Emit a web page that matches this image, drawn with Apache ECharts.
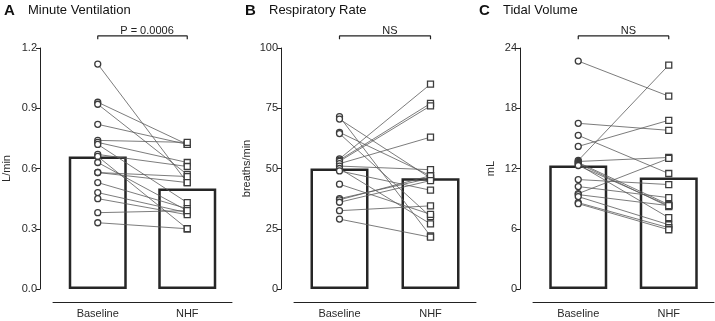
<!DOCTYPE html>
<html>
<head>
<meta charset="utf-8">
<script src="https://cdn.jsdelivr.net/npm/echarts@6/dist/echarts.min.js"></script>
<style>
  html, body { margin: 0; padding: 0; background: #fff; }
  #chart { width: 715px; height: 321px; }
</style>
</head>
<body>
<div id="chart"></div>
<script>
// categories
const categories = ['Baseline', 'NHF'];

// A: minute ventilation (L/min), one value per subject
const mvBaseline = [1.12, 0.93, 0.92, 0.82, 0.74, 0.73, 0.72, 0.67, 0.66, 0.63, 0.58, 0.58, 0.53, 0.48, 0.45, 0.38, 0.33];
const mvNHF      = [0.53, 0.72, 0.57, 0.72, 0.73, 0.63, 0.43, 0.61, 0.30, 0.39, 0.56, 0.53, 0.40, 0.38, 0.37, 0.39, 0.30];
const mvMean     = [0.66, 0.50];

// B: respiratory rate (breaths/min)
const rrBaseline = [71.5, 70.5, 65, 64.5, 54, 53.5, 53, 52, 51, 50, 49, 43.5, 37.5, 37, 36, 32.5, 29];
const rrNHF      = [22, 46, 47, 30, 85, 77, 76, 63, 49.5, 27, 41, 31, 46, 47, 45, 34.5, 21.5];
const rrMean     = [50, 46];

// C: tidal volume (mL)
const tvBaseline = [22.7, 16.5, 15.3, 14.2, 12.8, 12.7, 12.6, 12.5, 12.4, 12.3, 10.9, 10.2, 9.5, 9.4, 9.2, 8.6, 8.5];
const tvNHF      = [19.2, 15.8, 11.5, 16.8, 22.3, 13.1, 8.4, 8.2, 7.1, 8.3, 10.4, 9.1, 13.0, 8.3, 6.4, 6.1, 5.9];
const tvMean     = [12.3, 11.1];

// axis ranges
const yMax      = [1.2, 100, 24];
const yInterval = [0.3, 25, 6];
const yDecimals = [1, 0, 0];

const panels = [
  {letter: 'A', title: 'Minute Ventilation', unit: 'L/min', note: 'P = 0.0006',
   base: mvBaseline, nhf: mvNHF, mean: mvMean, left: 52, width: 180, titleX: 4, nameGap: 28},
  {letter: 'B', title: 'Respiratory Rate', unit: 'breaths/min', note: 'NS',
   base: rrBaseline, nhf: rrNHF, mean: rrMean, left: 294, width: 182, titleX: 245, nameGap: 29},
  {letter: 'C', title: 'Tidal Volume', unit: 'mL', note: 'NS',
   base: tvBaseline, nhf: tvNHF, mean: tvMean, left: 533, width: 181, titleX: 479, nameGap: 24}
];

const FONT = 'Liberation Sans, Arial, sans-serif';
const grid = [], xAxis = [], yAxis = [], series = [], title = [];

panels.forEach(function (p, i) {
  grid.push({left: p.left, width: p.width, top: 48, bottom: 32});

  xAxis.push({
    type: 'category', gridIndex: i, data: categories, offset: 13,
    axisLine: {onZero: false, lineStyle: {color: '#222', width: 1}},
    axisTick: {alignWithLabel: true, length: 4, lineStyle: {color: '#222'}},
    axisLabel: {color: '#2a2a2a', fontSize: 11, fontFamily: FONT, margin: 6}
  });

  yAxis.push({
    type: 'value', gridIndex: i, min: 0, max: yMax[i], interval: yInterval[i], offset: 13,
    name: p.unit, nameLocation: 'middle', nameGap: p.nameGap,
    nameTextStyle: {color: '#2a2a2a', fontSize: 11, fontFamily: FONT},
    splitLine: {show: false},
    axisLine: {show: true, onZero: false, lineStyle: {color: '#222', width: 1}},
    axisTick: {show: true, length: 4, lineStyle: {color: '#222'}},
    axisLabel: {color: '#2a2a2a', fontSize: 11, fontFamily: FONT, margin: 3,
      formatter: function (v) { return v.toFixed(yDecimals[i]); }}
  });

  // mean bars
  series.push({
    type: 'bar', xAxisIndex: i, yAxisIndex: i, data: p.mean, barWidth: 58, z: 1,
    itemStyle: {color: '#fff', borderColor: '#262626', borderWidth: 2.5},
    silent: true
  });

  // paired subject lines
  p.base.forEach(function (b, k) {
    series.push({
      type: 'line', xAxisIndex: i, yAxisIndex: i, z: 3, silent: true,
      symbolSize: 6,
      lineStyle: {color: '#5a5a5a', width: 0.8},
      itemStyle: {color: '#fff', borderColor: '#3c3c3c', borderWidth: 1.3},
      data: [
        {value: [categories[0], b], symbol: 'circle'},
        {value: [categories[1], p.nhf[k]], symbol: 'rect', symbolSize: 6}
      ]
    });
  });

  // significance bracket above the plot
  const top = yMax[i] * 1.05, foot = yMax[i] * 1.036;
  series.push({
    type: 'line', xAxisIndex: i, yAxisIndex: i, clip: false, symbol: 'none', silent: true,
    lineStyle: {color: '#222', width: 1.2},
    data: [[categories[0], foot], [categories[0], top], [categories[1], top], [categories[1], foot]]
  });

  title.push({
    text: '{b|' + p.letter + '}{t|' + p.title + '}',
    left: p.titleX, top: 3, padding: 0,
    textStyle: {rich: {
      b: {fontSize: 15, fontWeight: 'bold', color: '#111', fontFamily: FONT, width: 24},
      t: {fontSize: 13, fontWeight: 'normal', color: '#111', fontFamily: FONT}
    }}
  });
  title.push({
    text: p.note, left: p.left + p.width / 2, top: 20, textAlign: 'center',
    textStyle: {fontSize: 11, fontWeight: 'normal', color: '#222', fontFamily: FONT}
  });
});

const chart = echarts.init(document.getElementById('chart'), null, {renderer: 'canvas'});
chart.setOption({
  animation: false,
  backgroundColor: '#fff',
  title: title,
  grid: grid,
  xAxis: xAxis,
  yAxis: yAxis,
  series: series
});
</script>
</body>
</html>
